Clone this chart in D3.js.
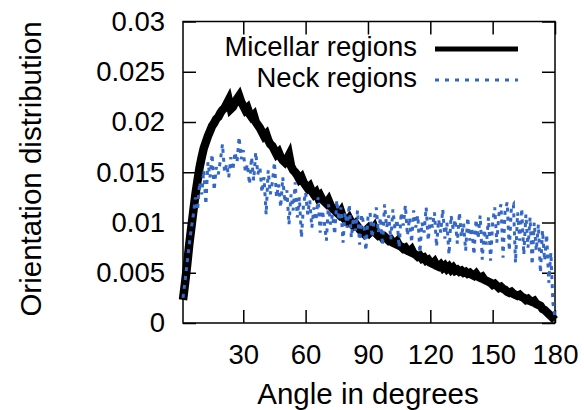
<!DOCTYPE html>
<html>
<head>
<meta charset="utf-8">
<script src="https://cdn.jsdelivr.net/npm/d3@7"></script>
<style>
  body { margin: 0; background: #fff; }
  text { font-family: "Liberation Sans", Arial, Helvetica, sans-serif; fill: #000; }
</style>
</head>
<body>
<svg id="chart" width="584" height="410"></svg>
<script>
// angle bins, 1..180 degrees
const angles = d3.range(1, 181);

const micellar = [
  0.0023, 0.0040, 0.0058, 0.0078, 0.0095, 0.0112, 0.0128, 0.0142, 0.0155, 0.0165,
  0.0174, 0.0180, 0.0186, 0.0191, 0.0196, 0.0199, 0.0203, 0.0205, 0.0209, 0.0212,
  0.0214, 0.0218, 0.0222, 0.0213, 0.0215, 0.0219, 0.0223, 0.0226, 0.0220, 0.0216,
  0.0212, 0.0214, 0.0208, 0.0205, 0.0207, 0.0200, 0.0197, 0.0194, 0.0190, 0.0186,
  0.0188, 0.0182, 0.0178, 0.0176, 0.0172, 0.0168, 0.0170, 0.0165, 0.0162, 0.0160,
  0.0163, 0.0167, 0.0156, 0.0152, 0.0150, 0.0147, 0.0143, 0.0145, 0.0140, 0.0137,
  0.0134, 0.0136, 0.0131, 0.0128, 0.0130, 0.0125, 0.0127, 0.0123, 0.0121, 0.0119,
  0.0122, 0.0117, 0.0114, 0.0112, 0.0110, 0.0108, 0.0111, 0.0105, 0.0103, 0.0101,
  0.0104, 0.0100, 0.0097, 0.0099, 0.0096, 0.0093, 0.0091, 0.0089, 0.0092, 0.0094,
  0.0090, 0.0092, 0.0095, 0.0089, 0.0087, 0.0088, 0.0085, 0.0086, 0.0084, 0.0082,
  0.0083, 0.0080, 0.0079, 0.0081, 0.0077, 0.0076, 0.0074, 0.0075, 0.0072, 0.0071,
  0.0073, 0.0069, 0.0068, 0.0066, 0.0067, 0.0064, 0.0065, 0.0062, 0.0063, 0.0060,
  0.0059, 0.0061, 0.0057, 0.0056, 0.0058, 0.0055, 0.0057, 0.0054, 0.0056, 0.0053,
  0.0055, 0.0052, 0.0053, 0.0051, 0.0052, 0.0050, 0.0051, 0.0049, 0.0050, 0.0048,
  0.0047, 0.0049, 0.0046, 0.0045, 0.0046, 0.0043, 0.0042, 0.0041, 0.0040, 0.0038,
  0.0039, 0.0037, 0.0035, 0.0036, 0.0034, 0.0033, 0.0031, 0.0030, 0.0031, 0.0029,
  0.0028, 0.0027, 0.0028, 0.0026, 0.0025, 0.0023, 0.0024, 0.0022, 0.0021, 0.0022,
  0.0019, 0.0018, 0.0017, 0.0014, 0.0013, 0.0011, 0.0009, 0.0007, 0.0005, 0.0003
];

const neck = [
  0.0025, 0.0042, 0.0060, 0.0078, 0.0094, 0.0108, 0.0125, 0.0112, 0.0140, 0.0128,
  0.0152, 0.0118, 0.0160, 0.0145, 0.0168, 0.0132, 0.0155, 0.0148, 0.0162, 0.0178,
  0.0150, 0.0158, 0.0145, 0.0165, 0.0152, 0.0170, 0.0160, 0.0185, 0.0163, 0.0172,
  0.0150, 0.0158, 0.0138, 0.0165, 0.0142, 0.0170, 0.0148, 0.0155, 0.0130, 0.0145,
  0.0108, 0.0152, 0.0128, 0.0140, 0.0160, 0.0125, 0.0138, 0.0115, 0.0145, 0.0120,
  0.0132, 0.0098, 0.0128, 0.0112, 0.0140, 0.0105, 0.0125, 0.0085, 0.0118, 0.0130,
  0.0108, 0.0122, 0.0095, 0.0115, 0.0102, 0.0125, 0.0090, 0.0112, 0.0100, 0.0082,
  0.0118, 0.0098, 0.0108, 0.0088, 0.0122, 0.0102, 0.0115, 0.0080, 0.0110, 0.0095,
  0.0118, 0.0085, 0.0105, 0.0092, 0.0112, 0.0078, 0.0108, 0.0098, 0.0072, 0.0105,
  0.0110, 0.0085, 0.0103, 0.0115, 0.0090, 0.0105, 0.0077, 0.0118, 0.0095, 0.0107,
  0.0083, 0.0113, 0.0093, 0.0103, 0.0075, 0.0110, 0.0097, 0.0117, 0.0087, 0.0105,
  0.0080, 0.0112, 0.0095, 0.0107, 0.0070, 0.0100, 0.0090, 0.0115, 0.0082, 0.0105,
  0.0095, 0.0110, 0.0076, 0.0103, 0.0090, 0.0113, 0.0084, 0.0100, 0.0068, 0.0107,
  0.0093, 0.0103, 0.0079, 0.0110, 0.0086, 0.0099, 0.0072, 0.0105, 0.0082, 0.0095,
  0.0068, 0.0103, 0.0084, 0.0107, 0.0063, 0.0093, 0.0078, 0.0105, 0.0062, 0.0100,
  0.0115, 0.0080, 0.0108, 0.0118, 0.0065, 0.0112, 0.0120, 0.0072, 0.0115, 0.0118,
  0.0060, 0.0110, 0.0082, 0.0114, 0.0068, 0.0108, 0.0075, 0.0105, 0.0058, 0.0100,
  0.0072, 0.0098, 0.0050, 0.0092, 0.0062, 0.0088, 0.0040, 0.0070, 0.0020, 0.0005
];

const seriesNames = ["Micellar regions", "Neck regions"];
const xTicks = [30, 60, 90, 120, 150, 180];
const yTicks = [0, 0.005, 0.01, 0.015, 0.02, 0.025, 0.03];
const yTickLabels = ["0", "0.005", "0.01", "0.015", "0.02", "0.025", "0.03"];

const svg = d3.select("#chart");
const margin = {top: 21.5, right: 29, bottom: 87, left: 183};
const width = 584, height = 410;
const tick = 13;

const x = d3.scaleLinear()
            .domain([1, 180])
            .range([margin.left, width - margin.right]);

const y = d3.scaleLinear()
            .domain([0, 0.03])
            .range([height - margin.bottom, margin.top]);

const blue = "#3467c6";

// axes, ticks point inward and are mirrored on top/right
svg.append("g").attr("class", "axis x-axis")
   .attr("transform", `translate(0,${y(0)})`)
   .call(d3.axisBottom(x).tickValues(xTicks).tickSize(-tick).tickPadding(21));

svg.append("g").attr("class", "axis")
   .attr("transform", `translate(0,${y(0.03)})`)
   .call(d3.axisTop(x).tickValues(xTicks).tickSize(-tick).tickFormat(""));

svg.append("g").attr("class", "axis y-axis")
   .attr("transform", `translate(${x(1)},0)`)
   .call(d3.axisLeft(y).tickValues(yTicks).tickSize(-tick).tickPadding(18)
           .tickFormat((d, i) => yTickLabels[i]));

svg.append("g").attr("class", "axis")
   .attr("transform", `translate(${x(180)},0)`)
   .call(d3.axisRight(y).tickValues(yTicks).tickSize(-tick).tickFormat(""));

svg.selectAll(".axis .domain").remove();
svg.selectAll(".axis line").attr("stroke", "#000").attr("stroke-width", 1.5);
svg.selectAll(".axis text").style("font-size", "27.5px").style("font-family", null);

// frame
svg.append("rect")
   .attr("x", x(1)).attr("y", y(0.03))
   .attr("width", x(180) - x(1)).attr("height", y(0) - y(0.03))
   .attr("fill", "none").attr("stroke", "#000").attr("stroke-width", 1.5);

const line = d3.line()
               .x((d, i) => x(angles[i]))
               .y(d => y(d));

svg.append("path")
   .datum(micellar)
   .attr("fill", "none")
   .attr("stroke", "#000")
   .attr("stroke-width", 8.5)
   .attr("d", line);

svg.append("path")
   .datum(neck)
   .attr("fill", "none")
   .attr("stroke", blue)
   .attr("stroke-width", 3)
   .attr("stroke-dasharray", "4,5")
   .attr("d", line);

// legend
const legend = svg.append("g").attr("class", "legend");
const legendStyles = [
  {stroke: "#000", width: 5, dash: null},
  {stroke: blue, width: 3, dash: "4,6"}
];
seriesNames.forEach((name, i) => {
    const ly = 49 + i * 31;
    legend.append("text")
          .attr("x", 417).attr("y", ly + 7)
          .style("text-anchor", "end")
          .style("font-size", "27.5px")
          .text(name);
    legend.append("line")
          .attr("x1", 435).attr("x2", 518)
          .attr("y1", ly).attr("y2", ly)
          .attr("stroke", legendStyles[i].stroke)
          .attr("stroke-width", legendStyles[i].width)
          .attr("stroke-dasharray", legendStyles[i].dash);
});

// axis titles
svg.append("text")
   .attr("x", 368)
   .attr("y", 404)
   .style("text-anchor", "middle")
   .style("font-size", "29.5px")
   .text("Angle in degrees");

svg.append("text")
   .attr("transform", "rotate(-90)")
   .attr("x", -169)
   .attr("y", 41)
   .style("text-anchor", "middle")
   .style("font-size", "29.5px")
   .text("Orientation distribution");
</script>
</body>
</html>
